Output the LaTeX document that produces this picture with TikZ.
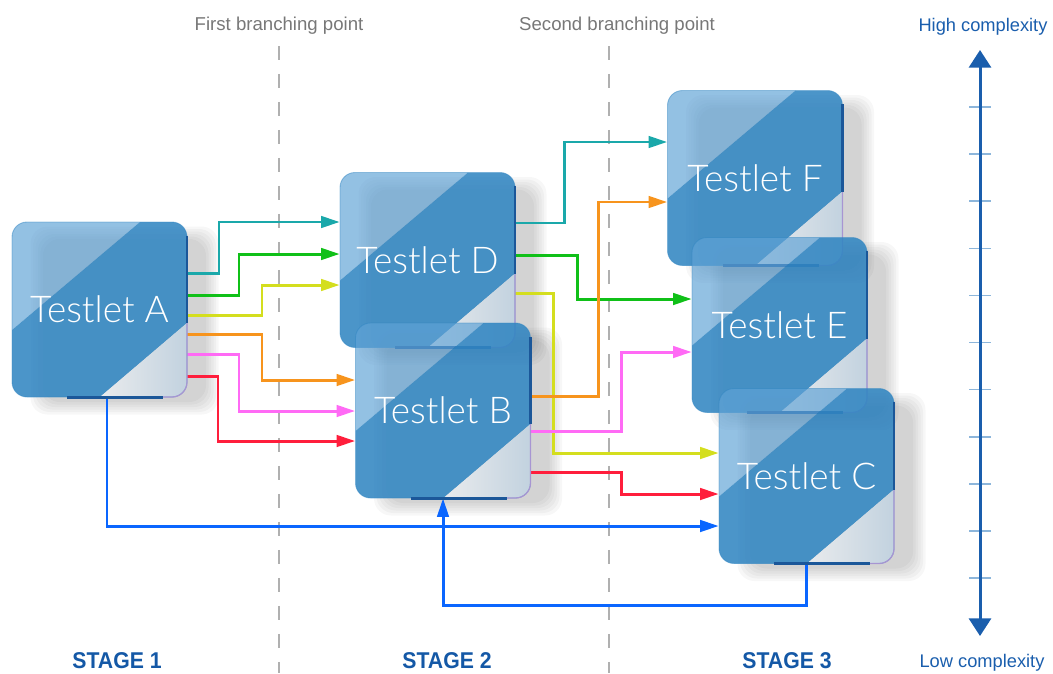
\documentclass[tikz,border=0pt]{standalone}
\usepackage{fontspec}
\setmainfont{Liberation Sans}
\newfontfamily\thinfont{Lato Light}
\usetikzlibrary{arrows.meta}
\definecolor{boxblue}{HTML}{3286C2}
\definecolor{boxlight}{HTML}{60A3D6}
\definecolor{tealc}{HTML}{1AA8AA}
\definecolor{greenc}{HTML}{10C018}
\definecolor{yellowc}{HTML}{D4DE1E}
\definecolor{orangec}{HTML}{F7941D}
\definecolor{pinkc}{HTML}{FF6AF5}
\definecolor{redc}{HTML}{FF1E3C}
\definecolor{bluec}{HTML}{0A66FF}
\definecolor{axisc}{HTML}{1A5EAD}
\definecolor{tickc}{HTML}{8DB6DB}
\definecolor{stagec}{HTML}{1458A6}
\definecolor{grayt}{HTML}{777777}
\definecolor{dashc}{HTML}{B0B0B0}
\definecolor{darkedge}{HTML}{1B5799}
\definecolor{lavc}{HTML}{A795D2}
\definecolor{gtria}{HTML}{E9EBED}
\definecolor{gtrib}{HTML}{C2D2DF}
\pgfdeclarelayer{shadowl}
\pgfdeclarelayer{arrowl}
\pgfdeclarelayer{boxl}
\pgfsetlayers{shadowl,arrowl,boxl,main}
\tikzset{
  tnode/.style={minimum width=3.5cm, minimum height=3.5cm, inner sep=0pt,
    text=white, font=\thinfont\fontsize{21}{21}\selectfont},
  conn/.style={line width=1.7pt, -{Triangle[length=10.5pt,width=6.5pt]}},
  branchline/.style={dashc, line width=1.1pt, dash pattern=on 0.28cm off 0.28cm},
  branchlabel/.style={text=grayt, font=\fontsize{10.6}{12}\selectfont},
  complabel/.style={text=axisc, font=\fontsize{10.4}{12}\selectfont},
  stagelabel/.style={text=stagec, font=\bfseries\fontsize{13}{14}\selectfont, xscale=0.93},
  axisline/.style={axisc, line width=1.7pt, {Triangle[length=10pt,width=12.5pt]}-{Triangle[length=10pt,width=12.5pt]}},
  tickline/.style={tickc, line width=0.9pt},
}
\newcommand{\tbox}[4]{%
  \node[tnode] (#1) at (#2,#3) {#4};
  \begin{pgfonlayer}{shadowl}
    \begin{scope}[shift={(#2,#3)}]
      \foreach \k in {0,...,5}{%
        \fill[black, fill opacity=0.032, rounded corners=0.34cm]
          (-87.5+25-\k*2.5+6,-87.5+11-\k*2.5+6) rectangle (87.5+25+\k*2.5-6,87.5+11+\k*2.5-6);}
    \end{scope}
  \end{pgfonlayer}
  \begin{pgfonlayer}{boxl}
    \begin{scope}[shift={(#2,#3)}]
      \begin{scope}
        \clip[rounded corners=0.3cm] (-87.5,-87.5) rectangle (87.5,87.5);
        \fill[boxlight, fill opacity=0.68] (-87.5,-87.5) -- (40.5,-87.5) -- (-87.5,20.5) -- cycle;
        \fill[boxblue, fill opacity=0.88] (40.5,-87.5) -- (87.5,-87.5) -- (87.5,13.5) -- (0.5,87.5) -- (-87.5,87.5) -- (-87.5,20.5) -- cycle;
        \shade[left color=gtria, right color=gtrib] (0.5,87.5) -- (87.5,87.5) -- (87.5,13.5) -- cycle;
      \end{scope}
      \draw[boxblue, line width=0.5pt, opacity=0.5, rounded corners=0.3cm] (-87.5,-87.5) rectangle (87.5,87.5);
      \draw[lavc, line width=0.7pt, rounded corners=0.3cm] (87.5,13.5) -- (87.5,87.5) -- (63.5,87.5);
      \draw[darkedge, line width=1.2pt] (87.5,-74) -- (87.5,13.5);
      \draw[darkedge, line width=1.7pt] (-32.5,87.5) -- (63.5,87.5);
    \end{scope}
  \end{pgfonlayer}
}
\begin{document}
\begin{tikzpicture}[x=0.02cm, y=-0.02cm]
\useasboundingbox (0,0) rectangle (1053,673);
% branching lines
\coordinate (b1top) at (279,46);
\coordinate (b1bot) at (279,673);
\coordinate (b2top) at (609,46);
\coordinate (b2bot) at (609,673);
\begin{pgfonlayer}{shadowl}
\draw[branchline] (b1top) -- (b1bot);
\draw[branchline] (b2top) -- (b2bot);
\end{pgfonlayer}
\node[branchlabel] (fb) at (279,26) {First branching point};
\node[branchlabel] (sb) at (617,26) {Second branching point};
% boxes
\tbox{A}{99.5}{309.5}{Testlet A}
\tbox{D}{427.5}{260}{Testlet D}
\tbox{B}{443}{410.5}{Testlet B}
\tbox{F}{755}{178}{Testlet F}
\tbox{E}{779.5}{325}{Testlet E}
\tbox{C}{806.5}{476}{Testlet C}
% connectors
\begin{pgfonlayer}{arrowl}
\draw[conn, tealc]   (A.east |- 0,273) -| (219,222) -- (D.west |- 0,222);
\draw[conn, greenc]  (A.east |- 0,295) -| (239,254) -- (D.west |- 0,254);
\draw[conn, yellowc] (A.east |- 0,315) -| (262,285) -- (D.west |- 0,285);
\draw[conn, orangec] (A.east |- 0,334) -| (262,380) -- (B.west |- 0,380);
\draw[conn, pinkc]   (A.east |- 0,354) -| (239,411) -- (B.west |- 0,411);
\draw[conn, redc]    (A.east |- 0,376) -| (218,441) -- (B.west |- 0,441);
\draw[conn, tealc]   (D.east |- 0,223) -| (564,142) -- (F.west |- 0,142);
\draw[conn, greenc]  (D.east |- 0,255) -| (577,299) -- (E.west |- 0,299);
\draw[conn, yellowc] (D.east |- 0,293) -| (553,453) -- (C.west |- 0,453);
\draw[conn, orangec] (B.east |- 0,396) -| (598,202) -- (F.west |- 0,202);
\draw[conn, pinkc]   (B.east |- 0,431) -| (621,352) -- (E.west |- 0,352);
\draw[conn, redc]    (B.east |- 0,472) -| (621,494) -- (C.west |- 0,494);
\draw[conn, bluec]   (A.south -| 107,0) |- (C.west |- 0,526);
\draw[conn, bluec]   (C.south) |- (B.south |- 0,605) -- (B.south);
\end{pgfonlayer}
% complexity axis
\coordinate (axtop) at (980,50);
\coordinate (axbot) at (980,636);
\foreach \i in {0,...,10}{\draw[tickline] (969,107+\i*47.1) -- (991,107+\i*47.1);}
\draw[axisline] (axbot) -- (axtop);
\node[complabel] (hc) at (983,27) {High complexity};
\node[complabel] (lc) at (982,663) {Low complexity};
% stages
\node[stagelabel] (s1) at (117,661) {STAGE 1};
\node[stagelabel] (s2) at (447,661) {STAGE 2};
\node[stagelabel] (s3) at (787,661) {STAGE 3};
\end{tikzpicture}
\end{document}
